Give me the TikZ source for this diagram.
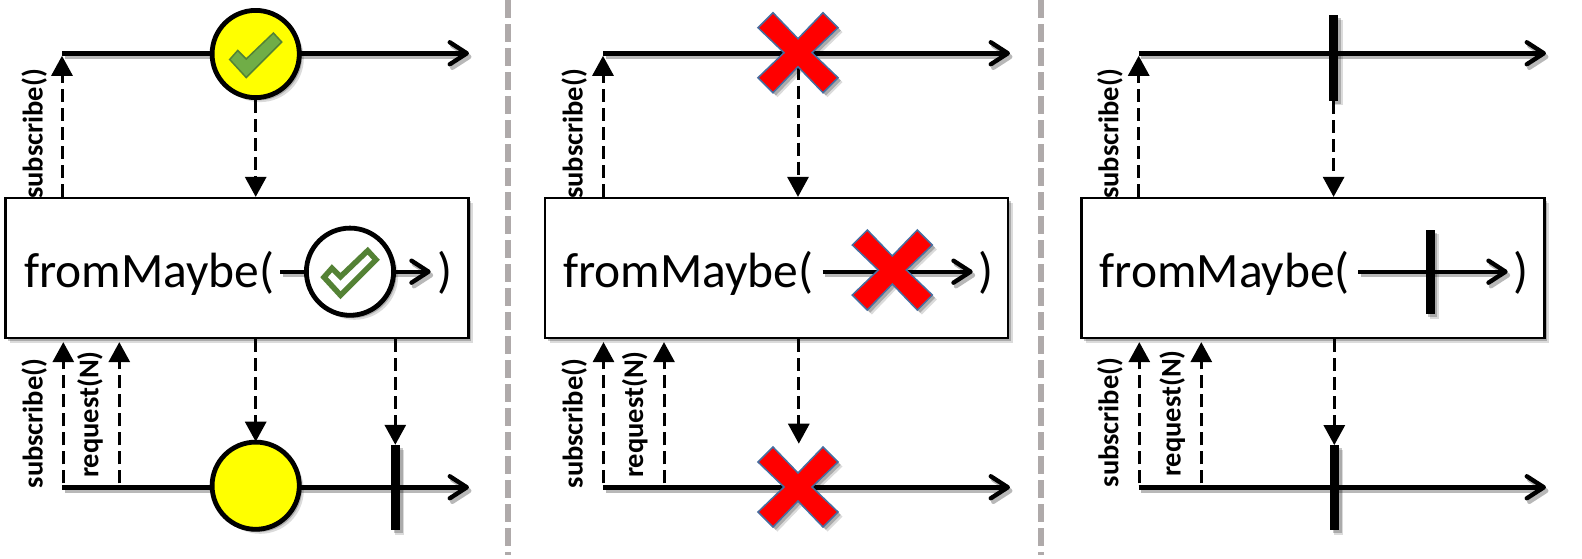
\documentclass[tikz,border=0pt]{standalone}
\usepackage{fontspec}
\setmainfont{Carlito}
\usepackage{tikz}
\usetikzlibrary{positioning}
\usetikzlibrary{calc}
\usetikzlibrary{shadows}
\usetikzlibrary{arrows.meta}
\definecolor{markyellow}{RGB}{255,255,0}
\definecolor{markred}{RGB}{255,0,0}
\definecolor{crossedge}{RGB}{70,110,160}
\definecolor{tickfill}{RGB}{112,173,71}
\definecolor{tickedge}{RGB}{84,130,53}
\definecolor{sepgray}{RGB}{175,170,170}
\tikzset{
  softshadow/.style={drop shadow={shadow xshift=4.5pt,shadow yshift=-4.5pt,opacity=.14,fill=black},drop shadow={shadow xshift=2.8pt,shadow yshift=-2.8pt,opacity=.22,fill=black}},
  linetip/.style={-{Straight Barb[length=17pt,width=22pt,round]}},
  timeline/.style={line width=4.4pt,linetip,preaction={draw=black!28,line width=4.4pt,linetip,transform canvas={xshift=2.5pt,yshift=-3.5pt}}},
  signal/.style={line width=3pt,dash pattern=on 13pt off 6pt,-{Triangle[length=20pt,width=21pt]}},
  opbox/.style={draw,line width=2.2pt,fill=white,minimum width=463pt,minimum height=140pt,inner sep=0pt,softshadow},
  oplabel/.style={font=\fontsize{49.5}{60}\selectfont,inner sep=0pt,anchor=base west},
  callname/.style={font=\bfseries\fontsize{28.5}{32}\selectfont,rotate=90,inner sep=0pt,anchor=base west},
  markcircle/.style={circle,draw,line width=4.8pt,minimum size=87.2pt,inner sep=0pt,softshadow},
  barmark/.style={fill=black,inner sep=0pt,minimum width=9pt,softshadow},
  tickmark/.style={draw=tickedge,line width=1.5pt,fill=tickfill},
  hollowtick/.style={draw=tickedge,line width=5.5pt,fill=white},
  crossmark/.style={draw=crossedge,line width=1.5pt,fill=markred,softshadow},
  sepline/.style={line width=6pt,sepgray,dash pattern=on 18pt off 6pt}
}
% x shape around a named coordinate
\newcommand{\crossat}[1]{
  \draw[crossmark,shift={(#1)}] (-25,-40) -- (0,-14) -- (25,-40) -- (40,-25) -- (14,0) -- (40,25) -- (25,40) -- (0,14)
    -- (-25,40) -- (-40,25) -- (-14,0) -- (-40,-25) -- cycle;
}
% check mark around a named coordinate
\newcommand{\tickat}[2]{
  \draw[#2,shift={(#1)}] (-26,5.5) -- (-9.5,23.5) -- (26,-12) -- (17.7,-21) -- (-9.5,5) -- (-18,-3.5) -- cycle;
}
\begin{document}
\begin{tikzpicture}[x=1pt,y=-1pt]
  \useasboundingbox (0,0) rectangle (1582,558);
  % panel separators
  \coordinate (s1a) at (508,0); \coordinate (s1b) at (508,555);
  \coordinate (s2a) at (1041,0); \coordinate (s2b) at (1041,555);
  \draw[sepline] (s1a) -- (s1b);
  \draw[sepline] (s2a) -- (s2b);

  % left panel
  \coordinate (a0) at (62,53.3); \coordinate (a1) at (469,53.3);
  \coordinate (b0) at (62,487.3); \coordinate (b1) at (469,487.3);
  \coordinate (qa) at (63.3,487.3); \coordinate (qb) at (119.3,487.3);
  \node[callname] (ca1) at (42.7,199) {subscribe()};
  \node[callname] (ca2) at (42.7,488.5) {subscribe()};
  \node[callname] (ca3) at (98.3,478) {request(N)};
  \node[opbox] (boxa) at (236.9,268) {};
  \draw[timeline] (a0) -- (a1);
  \draw[timeline] (b0) -- (b1);
  \node[markcircle,fill=markyellow] (ca) at (255.7,54) {};
  \tickat{ca}{tickmark}
  \node[markcircle,fill=markyellow] (cb) at (255.7,485.7) {};
  \node[barmark,minimum height=85pt] (ba) at (395.3,487.5) {};
  \node[oplabel] (la) at (24,287) {fromMaybe(};
  \coordinate (ia0) at (280,271.7); \coordinate (ia1) at (430.7,271.7);
  \draw[timeline] (ia0) -- (ia1);
  \node[markcircle,fill=white] (cc) at (350,271.7) {};
  \tickat{cc}{hollowtick}
  \node[oplabel] (ra) at (437,287) {)};
  \draw[signal,shorten >=2.5pt] (boxa.north -| a0) -- (a0);
  \draw[signal] (ca.south) -- (boxa.north -| ca);
  \draw[signal,shorten <=4pt,shorten >=3pt] (qa) -- (qa |- boxa.south);
  \draw[signal,shorten <=4pt,shorten >=3pt] (qb) -- (qb |- boxa.south);
  \draw[signal,shorten >=-2pt] (boxa.south -| cb) -- (cb.north);
  \draw[signal] (boxa.south -| ba) -- (ba.north);

  % middle panel
  \coordinate (d0) at (603,53.3); \coordinate (d1) at (1010,53.3);
  \coordinate (e0) at (603,487.3); \coordinate (e1) at (1010,487.3);
  \coordinate (qc) at (603.5,487.3); \coordinate (qd) at (664,487.3);
  \coordinate (xd) at (798,52.7); \coordinate (xe) at (798,487); \coordinate (xf) at (798.8,443.7);
  \node[callname] (cb1) at (582.6,199) {subscribe()};
  \node[callname] (cb2) at (582.6,488.5) {subscribe()};
  \node[callname] (cb3) at (643,478) {request(N)};
  \node[opbox] (boxb) at (776.8,268) {};
  \draw[timeline] (d0) -- (d1);
  \draw[timeline] (e0) -- (e1);
  \draw[signal,shorten <=14pt] (xd) -- (boxb.north -| xd);
  \crossat{xd}
  \crossat{xe}
  \node[oplabel] (lb) at (563,287) {fromMaybe(};
  \coordinate (ib0) at (822.7,271.7); \coordinate (ib1) at (972.7,271.7); \coordinate (xg) at (892.3,270);
  \draw[timeline] (ib0) -- (ib1);
  \crossat{xg}
  \node[oplabel] (rb) at (978,287) {)};
  \draw[signal,shorten >=2.5pt] (boxb.north -| d0) -- (d0);
  \draw[signal,shorten <=4pt,shorten >=3pt] (qc) -- (qc |- boxb.south);
  \draw[signal,shorten <=4pt,shorten >=3pt] (qd) -- (qd |- boxb.south);
  \draw[signal] (boxb.south -| xf) -- (xf);

  % right panel
  \coordinate (g0) at (1138.7,53.3); \coordinate (g1) at (1546,53.3);
  \coordinate (h0) at (1138.7,487.3); \coordinate (h1) at (1546,487.3);
  \coordinate (qe) at (1139.3,487.3); \coordinate (qf) at (1201.3,487.3);
  \node[callname] (cc1) at (1118.3,199) {subscribe()};
  \node[callname] (cc2) at (1118.3,487.5) {subscribe()};
  \node[callname] (cc3) at (1180.7,477) {request(N)};
  \node[opbox] (boxc) at (1312.9,268) {};
  \draw[timeline] (g0) -- (g1);
  \draw[timeline] (h0) -- (h1);
  \node[barmark,minimum height=85.8pt] (bc) at (1333.6,58) {};
  \node[barmark,minimum height=85pt] (bd) at (1334.3,487.8) {};
  \node[oplabel] (lc) at (1099.3,287) {fromMaybe(};
  \coordinate (ic0) at (1358,271.7); \coordinate (ic1) at (1507.7,271.7);
  \draw[timeline] (ic0) -- (ic1);
  \node[barmark,minimum height=84.6pt] (be) at (1430,272) {};
  \node[oplabel] (rc) at (1513,287) {)};
  \draw[signal,shorten >=2.5pt] (boxc.north -| g0) -- (g0);
  \draw[signal] (bc.south) -- (boxc.north -| bc);
  \draw[signal,shorten <=4pt,shorten >=3pt] (qe) -- (qe |- boxc.south);
  \draw[signal,shorten <=4pt,shorten >=3pt] (qf) -- (qf |- boxc.south);
  \draw[signal] (boxc.south -| bd) -- (bd.north);
\end{tikzpicture}
\end{document}
